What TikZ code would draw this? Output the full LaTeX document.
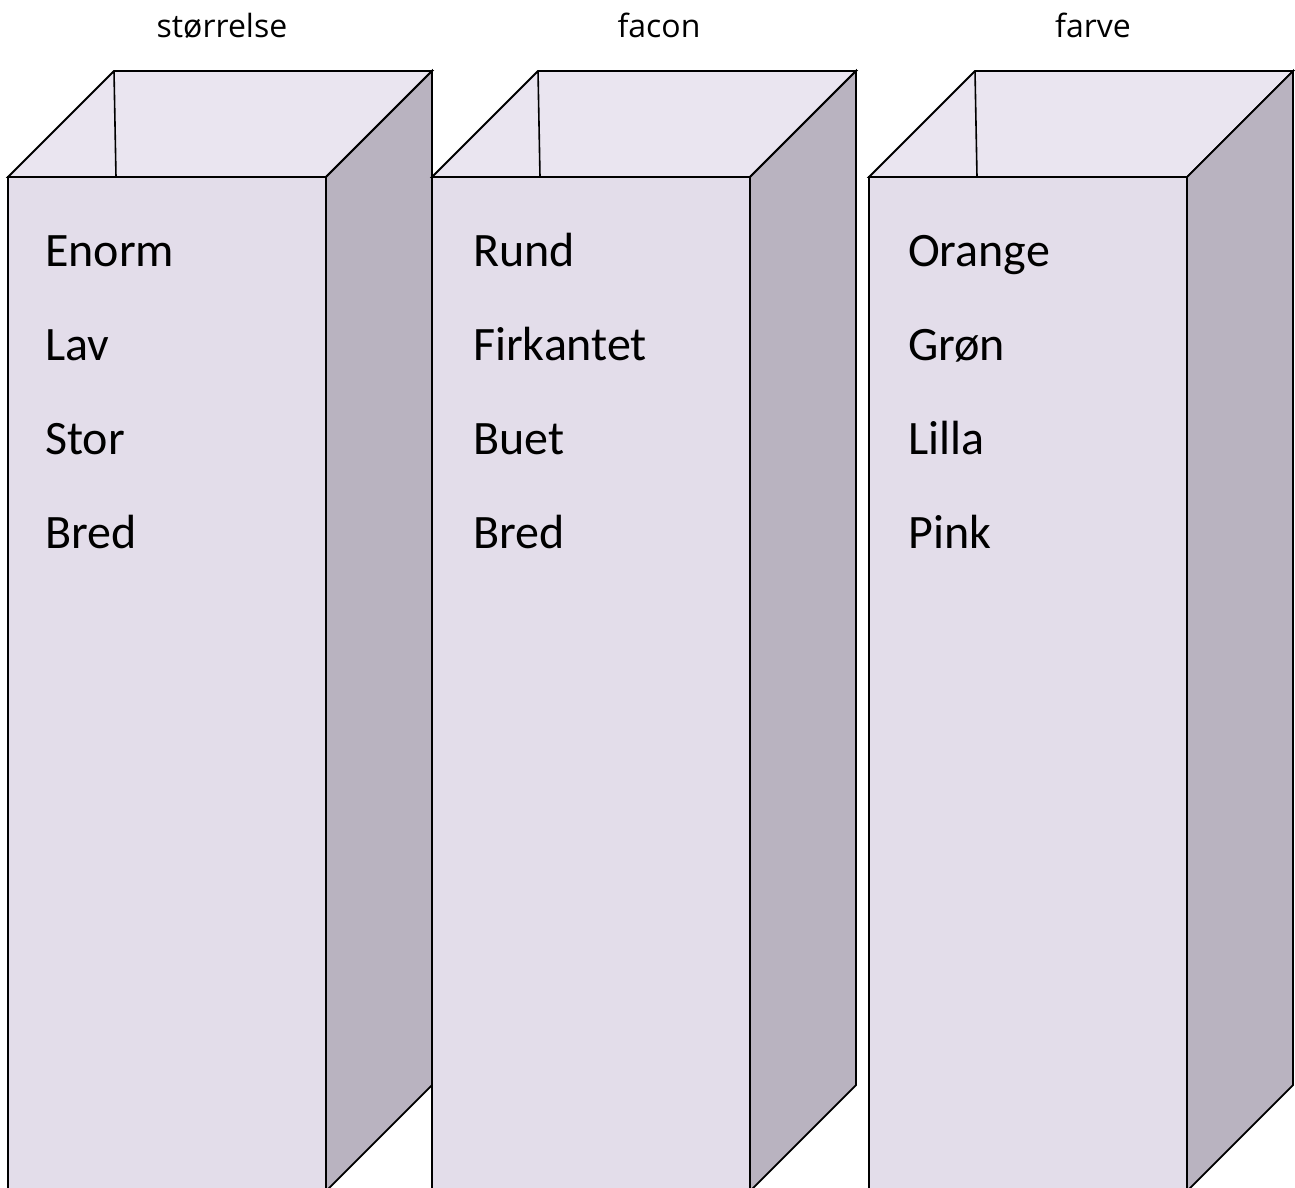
\documentclass[tikz,border=0pt]{standalone}
\usepackage{fontspec}
\setmainfont{Carlito}
\newfontfamily\titlefont{Open Sans}
\definecolor{frontc}{RGB}{227,221,234}
\definecolor{innerc}{RGB}{234,229,240}
\definecolor{sidec}{RGB}{185,179,192}
\tikzset{
  edge/.style={draw=black,line width=1.8pt,line join=miter},
  item/.style={anchor=base west,inner sep=0pt,font=\fontsize{48}{48}\selectfont},
  heading/.style={anchor=base,inner sep=0pt,font=\titlefont\fontsize{32}{32}\selectfont}
}
\begin{document}
\begin{tikzpicture}[x=1pt,y=-1pt]
\useasboundingbox (0,0) rectangle (1295,1187);
\fill[white] (0,0) rectangle (1295,1187);
\clip (0,0) rectangle (1295,1187);
\foreach \x in {8,432,869}{
  % top opening (inner walls)
  \path[edge,fill=innerc] (\x,177) -- (\x+106,71) -- (\x+424,71) -- (\x+318,177) -- cycle;
  \draw[line width=1.6pt] (\x+106,71) -- (\x+108,177);
  % side face
  \path[edge,fill=sidec] (\x+318,177) -- (\x+424,71) -- (\x+424,1085) -- (\x+318,1191) -- cycle;
  % front face
  \path[edge,fill=frontc] (\x,177) rectangle (\x+318,1220);
}
\node[heading] (h1) at (222,37) {størrelse};
\node[heading] (h2) at (659,37) {facon};
\node[heading] (h3) at (1093,37) {farve};
\node[item] (a1) at (45,266) {Enorm};
\node[item] (a2) at (45,360) {Lav};
\node[item] (a3) at (45,454) {Stor};
\node[item] (a4) at (45,548) {Bred};
\node[item] (b1) at (473,266) {Rund};
\node[item] (b2) at (473,360) {Firkantet};
\node[item] (b3) at (473,454) {Buet};
\node[item] (b4) at (473,548) {Bred};
\node[item] (c1) at (908,266) {Orange};
\node[item] (c2) at (908,360) {Grøn};
\node[item] (c3) at (908,454) {Lilla};
\node[item] (c4) at (908,548) {Pink};
\end{tikzpicture}
\end{document}
